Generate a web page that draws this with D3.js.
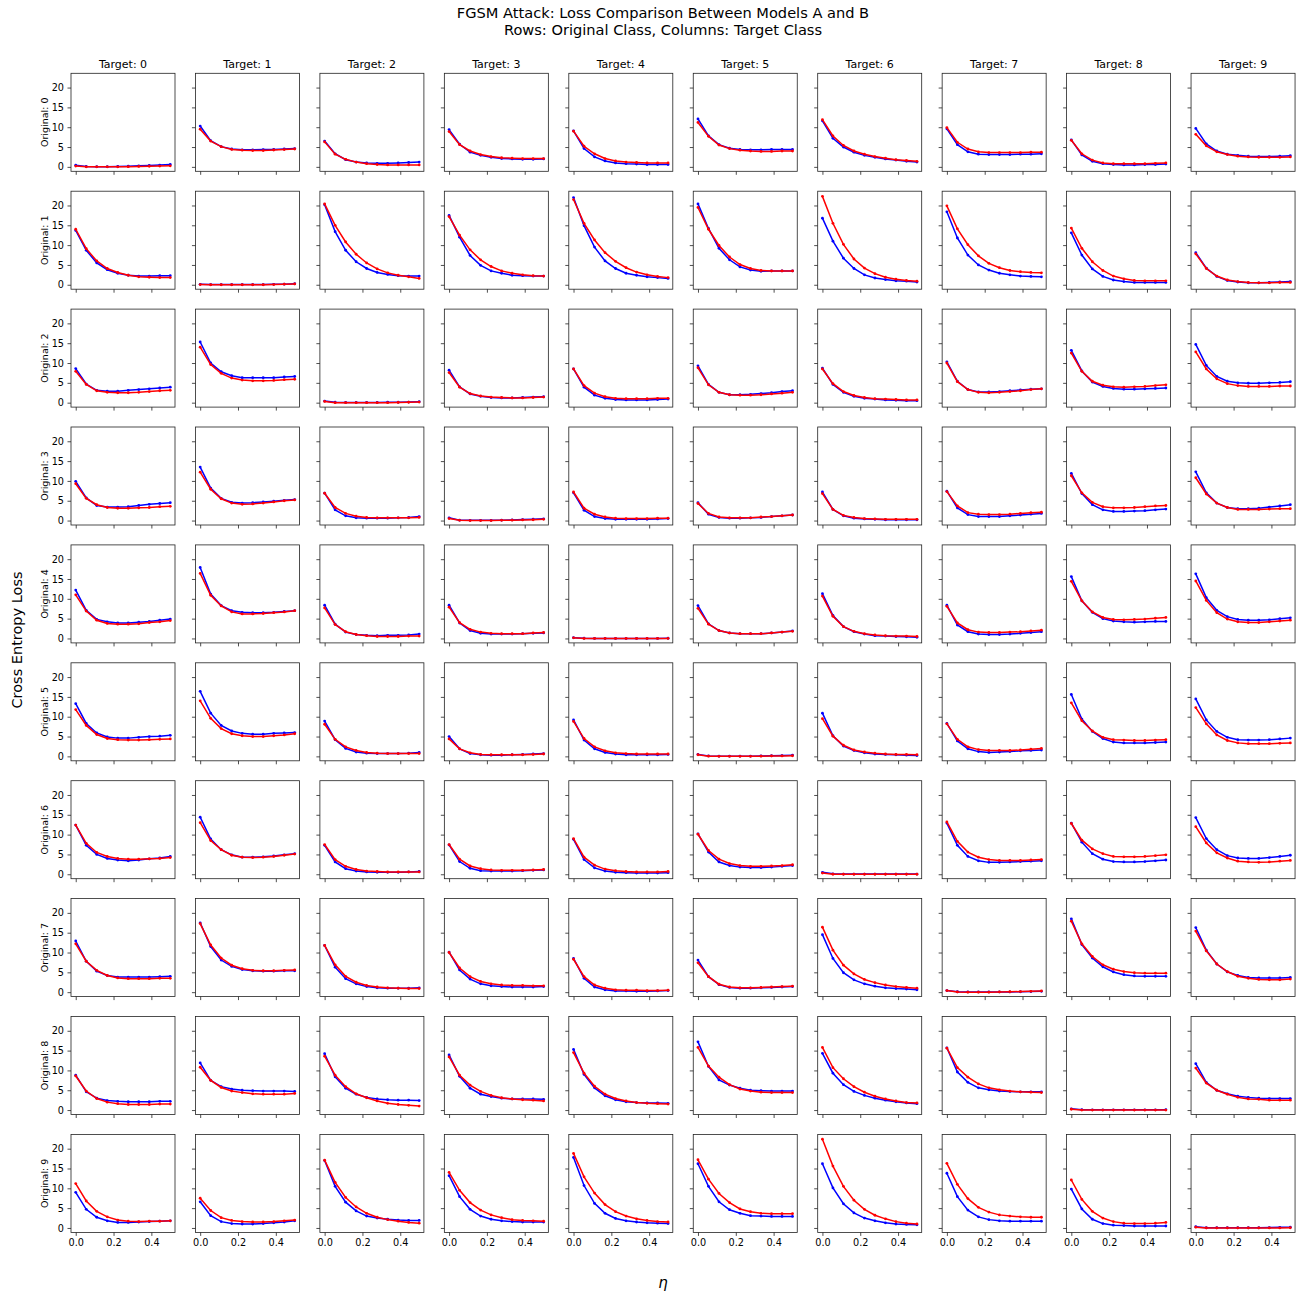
<!DOCTYPE html>
<html><head><meta charset="utf-8">
<script src="https://cdn.jsdelivr.net/npm/d3@7"></script>
<style>body{margin:0;background:#fff}svg{display:block}text{font-family:"DejaVu Sans",sans-serif;fill:#000}</style>
</head><body><svg id="c" width="1296" height="1291"></svg>
<script>
const eta = [0, 0.0556, 0.1111, 0.1667, 0.2222, 0.2778, 0.3333, 0.3889, 0.4444, 0.5];
const targets = ["Target: 0","Target: 1","Target: 2","Target: 3","Target: 4","Target: 5","Target: 6","Target: 7","Target: 8","Target: 9"];
const originals = ["Original: 0","Original: 1","Original: 2","Original: 3","Original: 4","Original: 5","Original: 6","Original: 7","Original: 8","Original: 9"];
const yTicks = [0, 5, 10, 15, 20];
const xTicks = [0.0, 0.2, 0.4];

// Model A (blue), one array per original class, one series per target class
const lossA0 = [
 [0.4,0.1,0.05,0.05,0.1,0.15,0.25,0.35,0.45,0.6],
 [10.3,6.6,5.1,4.5,4.3,4.3,4.35,4.4,4.5,4.6],
 [6.5,3.3,1.8,1.2,1.0,0.9,0.9,1.0,1.1,1.2],
 [9.4,5.7,3.7,2.9,2.4,2.1,2.0,1.9,1.9,2.0],
 [9.1,4.6,2.5,1.5,1.0,0.8,0.7,0.6,0.6,0.6],
 [12.1,7.8,5.6,4.7,4.4,4.3,4.3,4.4,4.4,4.4],
 [11.6,7.2,5.0,3.7,2.9,2.4,2.0,1.7,1.4,1.2],
 [9.6,5.6,3.8,3.2,3.1,3.1,3.1,3.2,3.2,3.3],
 [6.8,3.0,1.4,0.8,0.6,0.5,0.5,0.6,0.6,0.7],
 [9.7,5.8,4.0,3.2,2.9,2.7,2.6,2.6,2.7,2.8]];
const lossA1 = [
 [13.7,8.7,5.5,3.8,2.9,2.4,2.2,2.2,2.3,2.3],
 [0.1,0.05,0.05,0.05,0.05,0.05,0.05,0.1,0.15,0.25],
 [20.2,13.4,8.7,5.8,4.1,3.1,2.6,2.3,2.2,2.2],
 [17.5,12.0,7.4,4.9,3.5,2.9,2.4,2.3,2.2,2.2],
 [22.0,14.9,9.5,6.0,4.1,2.9,2.4,2.0,1.8,1.6],
 [20.4,14.2,9.2,6.3,4.5,3.7,3.4,3.5,3.5,3.5],
 [16.8,11.0,6.7,4.1,2.5,1.7,1.3,1.0,0.9,0.7],
 [18.4,11.8,7.5,5.0,3.7,2.9,2.5,2.2,2.1,2.0],
 [13.1,7.5,4.0,2.1,1.2,0.8,0.6,0.6,0.6,0.6],
 [8.1,4.2,2.1,1.1,0.7,0.5,0.5,0.6,0.7,0.8]];
const lossA2 = [
 [8.6,4.7,3.1,2.9,2.9,3.1,3.3,3.5,3.7,3.9],
 [15.3,10.0,7.8,6.8,6.3,6.3,6.3,6.3,6.5,6.6],
 [0.4,0.1,0.05,0.05,0.05,0.05,0.1,0.1,0.15,0.25],
 [8.2,4.0,2.2,1.6,1.3,1.2,1.2,1.3,1.4,1.5],
 [8.5,3.9,1.9,1.1,0.8,0.7,0.7,0.7,0.8,0.9],
 [9.3,4.6,2.6,2.0,2.0,2.1,2.3,2.5,2.8,3.0],
 [8.7,4.6,2.6,1.6,1.1,0.9,0.7,0.6,0.5,0.5],
 [10.3,5.4,3.3,2.7,2.7,2.8,3.0,3.2,3.4,3.5],
 [13.2,8.0,5.2,4.1,3.6,3.4,3.4,3.5,3.6,3.7],
 [14.7,9.4,6.6,5.4,5.0,4.9,4.9,5.0,5.1,5.3]];
const lossA3 = [
 [9.9,5.7,3.8,3.4,3.4,3.5,3.8,4.1,4.3,4.5],
 [13.5,8.2,5.6,4.6,4.4,4.5,4.7,4.9,5.1,5.3],
 [6.9,2.7,1.2,0.7,0.6,0.6,0.6,0.7,0.8,1.0],
 [0.7,0.1,0.05,0.05,0.05,0.1,0.15,0.25,0.35,0.45],
 [7.0,2.6,1.0,0.5,0.3,0.3,0.3,0.3,0.4,0.5],
 [4.5,1.6,0.8,0.6,0.6,0.7,0.8,1.0,1.2,1.4],
 [7.2,2.8,1.2,0.6,0.4,0.3,0.2,0.2,0.2,0.2],
 [7.4,3.2,1.5,1.0,1.0,1.0,1.2,1.4,1.6,1.8],
 [11.9,6.8,4.0,2.7,2.3,2.3,2.4,2.5,2.7,2.9],
 [12.3,7.0,4.4,3.3,3.0,3.0,3.1,3.4,3.7,4.0]];
const lossA4 = [
 [12.2,7.1,4.8,4.2,3.9,3.9,4.1,4.3,4.6,4.9],
 [17.9,11.2,8.3,7.0,6.6,6.5,6.5,6.6,6.8,7.0],
 [8.4,3.6,1.6,1.0,0.8,0.7,0.8,0.8,0.9,1.1],
 [8.4,3.9,2.0,1.3,1.1,1.1,1.1,1.2,1.3,1.4],
 [0.2,0.05,0.0,0.0,0.0,0.0,0.0,0.0,0.0,0.05],
 [8.3,3.7,2.0,1.4,1.2,1.2,1.2,1.4,1.6,1.9],
 [11.3,5.8,3.0,1.7,1.1,0.7,0.6,0.5,0.4,0.3],
 [8.4,3.4,1.7,1.1,1.0,1.0,1.1,1.3,1.5,1.7],
 [15.6,9.5,6.6,5.0,4.4,4.2,4.1,4.2,4.3,4.3],
 [16.3,10.3,7.1,5.5,4.8,4.6,4.6,4.7,5.0,5.2]];
const lossA5 = [
 [13.3,8.3,5.9,4.9,4.6,4.6,4.8,5.0,5.1,5.3],
 [16.4,10.9,7.8,6.4,5.8,5.6,5.6,5.8,5.9,6.0],
 [8.9,4.2,2.0,1.1,0.8,0.7,0.7,0.7,0.8,1.0],
 [5.0,1.9,0.7,0.4,0.3,0.3,0.4,0.5,0.6,0.7],
 [9.2,4.1,1.9,1.0,0.6,0.4,0.4,0.4,0.4,0.5],
 [0.5,0.1,0.05,0.05,0.05,0.05,0.1,0.15,0.2,0.3],
 [10.9,5.2,2.6,1.5,0.9,0.6,0.5,0.4,0.3,0.2],
 [8.3,3.9,1.9,1.2,1.0,1.1,1.2,1.4,1.5,1.6],
 [15.6,9.4,6.3,4.5,3.6,3.4,3.4,3.4,3.5,3.6],
 [14.5,9.2,6.3,4.8,4.2,4.1,4.1,4.2,4.4,4.6]];
const lossA6 = [
 [12.4,7.3,5.0,4.0,3.6,3.4,3.6,3.9,4.1,4.5],
 [14.4,8.9,6.2,4.9,4.3,4.3,4.4,4.6,4.9,5.2],
 [7.3,3.1,1.4,0.8,0.6,0.5,0.5,0.5,0.6,0.7],
 [7.4,3.2,1.5,0.9,0.8,0.8,0.8,0.9,1.0,1.1],
 [8.8,3.7,1.6,0.8,0.5,0.4,0.3,0.3,0.3,0.4],
 [10.2,5.6,3.1,2.2,1.8,1.7,1.7,1.8,2.0,2.2],
 [0.5,0.1,0.05,0.05,0.05,0.05,0.05,0.05,0.05,0.05],
 [12.9,7.3,4.5,3.4,3.0,3.0,3.1,3.2,3.3,3.4],
 [12.9,8.1,5.2,3.8,3.2,3.1,3.1,3.2,3.4,3.6],
 [14.3,9.0,6.2,4.7,4.1,4.0,4.0,4.2,4.5,4.8]];
const lossA7 = [
 [12.9,7.8,5.3,4.2,3.8,3.8,3.8,3.8,3.9,4.0],
 [17.5,11.5,8.1,6.5,5.7,5.4,5.3,5.3,5.4,5.4],
 [11.8,6.3,3.4,2.1,1.4,1.1,1.0,1.0,1.0,1.1],
 [10.1,5.6,3.3,2.1,1.6,1.4,1.3,1.3,1.3,1.4],
 [8.5,3.5,1.3,0.6,0.3,0.3,0.2,0.2,0.3,0.4],
 [8.1,3.9,1.9,1.2,1.0,1.0,1.1,1.2,1.3,1.4],
 [14.5,8.5,4.9,3.1,2.1,1.5,1.1,0.9,0.8,0.6],
 [0.4,0.1,0.05,0.05,0.05,0.05,0.05,0.1,0.15,0.2],
 [18.5,12.0,8.6,6.4,5.1,4.4,4.1,4.0,4.0,4.0],
 [16.3,10.6,7.1,5.1,4.2,3.7,3.6,3.6,3.6,3.7]];
const lossA8 = [
 [8.8,4.6,3.0,2.4,2.2,2.1,2.1,2.1,2.2,2.2],
 [11.9,7.5,5.9,5.3,5.0,4.9,4.8,4.8,4.8,4.7],
 [14.2,8.4,5.5,4.0,3.2,2.8,2.6,2.5,2.5,2.4],
 [13.9,8.5,5.5,4.0,3.4,3.0,2.8,2.8,2.8,2.7],
 [15.3,9.0,5.6,3.6,2.6,2.1,1.9,1.8,1.8,1.7],
 [17.2,11.0,7.6,6.3,5.5,5.0,4.9,4.8,4.8,4.8],
 [14.3,9.3,6.4,4.7,3.7,3.0,2.5,2.1,1.8,1.6],
 [15.7,9.6,7.0,5.6,5.1,4.8,4.7,4.6,4.6,4.6],
 [0.3,0.1,0.05,0.05,0.05,0.05,0.05,0.05,0.05,0.1],
 [11.7,7.0,5.0,4.1,3.5,3.2,3.0,2.9,2.9,2.9]];
const lossA9 = [
 [9.0,4.7,2.7,1.8,1.4,1.4,1.5,1.6,1.7,1.8],
 [6.6,3.1,1.6,1.1,1.0,1.0,1.1,1.3,1.5,1.8],
 [17.0,10.5,6.5,4.3,3.0,2.5,2.2,2.0,1.9,1.9],
 [13.2,7.9,4.7,3.0,2.2,1.8,1.6,1.5,1.5,1.5],
 [17.8,10.7,6.2,3.7,2.4,1.8,1.5,1.3,1.2,1.1],
 [16.2,10.5,6.6,4.6,3.7,3.1,3.0,2.9,2.9,2.9],
 [16.2,10.1,6.1,3.8,2.5,1.8,1.3,1.0,0.9,0.8],
 [13.8,7.9,4.5,2.8,2.1,1.8,1.7,1.7,1.7,1.7],
 [9.8,4.8,2.2,1.1,0.7,0.6,0.5,0.5,0.5,0.5],
 [0.3,0.05,0.05,0.05,0.05,0.05,0.05,0.1,0.15,0.2]];

// Model B (red)
const lossB0 = [
 [0.2,0.0,0.0,0.0,0.0,0.05,0.1,0.15,0.2,0.25],
 [9.5,6.5,5.1,4.4,4.2,4.1,4.1,4.25,4.35,4.5],
 [6.3,3.2,1.9,1.2,0.8,0.6,0.5,0.5,0.5,0.5],
 [8.9,5.6,4.0,3.1,2.6,2.3,2.2,2.1,2.1,2.1],
 [9.0,5.2,3.3,2.1,1.5,1.2,1.1,1.0,1.0,1.0],
 [11.2,7.7,5.5,4.6,4.2,4.0,3.9,3.9,4.0,4.0],
 [11.9,7.8,5.4,4.0,3.2,2.6,2.2,1.8,1.6,1.4],
 [9.9,6.2,4.5,3.8,3.6,3.6,3.6,3.6,3.7,3.7],
 [6.7,3.3,1.7,1.0,0.8,0.8,0.8,0.8,0.9,1.0],
 [8.2,5.3,3.8,3.1,2.7,2.5,2.4,2.4,2.4,2.5]];
const lossB1 = [
 [14.0,9.1,6.0,4.1,3.1,2.4,2.0,1.9,1.8,1.8],
 [0.05,0.0,0.0,0.0,0.0,0.0,0.0,0.05,0.15,0.2],
 [20.4,15.0,10.8,7.7,5.5,4.0,3.0,2.4,2.0,1.6],
 [17.2,12.5,8.8,6.3,4.6,3.5,2.9,2.5,2.3,2.2],
 [21.5,15.5,11.3,8.1,5.9,4.3,3.2,2.5,2.1,1.8],
 [19.5,14.0,9.9,7.0,5.1,4.1,3.6,3.5,3.5,3.5],
 [22.3,15.5,10.2,6.5,4.2,2.8,1.9,1.4,1.1,0.9],
 [19.9,14.1,10.1,7.3,5.4,4.3,3.6,3.3,3.1,3.0],
 [14.3,9.2,5.8,3.6,2.2,1.5,1.1,1.0,1.0,1.0],
 [7.8,4.1,2.2,1.2,0.8,0.6,0.5,0.5,0.6,0.6]];
const lossB2 = [
 [7.9,4.6,3.0,2.6,2.5,2.5,2.6,2.8,3.0,3.1],
 [14.0,9.6,7.4,6.2,5.7,5.5,5.5,5.6,5.8,5.9],
 [0.3,0.0,0.0,0.0,0.0,0.0,0.0,0.05,0.1,0.15],
 [7.6,3.9,2.3,1.7,1.4,1.3,1.2,1.2,1.3,1.4],
 [8.5,4.3,2.4,1.5,1.1,1.0,1.0,1.0,1.1,1.1],
 [8.8,4.5,2.6,2.0,1.9,1.9,2.0,2.2,2.4,2.6],
 [8.5,4.8,2.8,1.8,1.3,1.0,0.9,0.8,0.7,0.7],
 [10.0,5.3,3.3,2.6,2.5,2.6,2.8,3.0,3.3,3.5],
 [12.5,7.9,5.4,4.4,4.0,3.9,4.0,4.1,4.3,4.5],
 [12.8,8.5,6.0,4.8,4.3,4.1,4.1,4.1,4.2,4.2]];
const lossB3 = [
 [9.3,5.6,4.0,3.3,3.1,3.1,3.2,3.3,3.5,3.6],
 [12.2,7.9,5.5,4.4,4.1,4.2,4.4,4.7,5.0,5.2],
 [6.9,3.3,1.8,1.1,0.8,0.7,0.7,0.7,0.7,0.8],
 [0.5,0.05,0.0,0.0,0.0,0.05,0.1,0.15,0.2,0.3],
 [7.2,3.1,1.6,0.9,0.6,0.5,0.5,0.5,0.6,0.6],
 [4.3,1.8,0.9,0.7,0.7,0.7,0.9,1.0,1.2,1.4],
 [6.8,2.8,1.3,0.8,0.5,0.4,0.3,0.3,0.3,0.3],
 [7.3,3.7,2.0,1.6,1.5,1.5,1.6,1.8,2.0,2.1],
 [11.3,7.0,4.6,3.5,3.2,3.2,3.3,3.5,3.7,3.8],
 [10.8,6.7,4.4,3.3,2.8,2.8,2.8,2.9,3.0,3.0]];
const lossB4 = [
 [11.0,6.9,4.6,3.8,3.6,3.6,3.7,4.0,4.2,4.5],
 [16.4,10.9,8.2,6.7,6.2,6.2,6.3,6.5,6.7,7.0],
 [7.7,3.5,1.7,1.0,0.7,0.5,0.5,0.5,0.6,0.6],
 [7.9,4.0,2.3,1.6,1.3,1.2,1.2,1.2,1.4,1.5],
 [0.15,0.0,0.0,0.0,0.0,0.0,0.0,0.0,0.0,0.0],
 [7.6,3.6,2.0,1.4,1.2,1.2,1.2,1.4,1.6,1.8],
 [10.7,5.6,3.0,1.8,1.2,0.9,0.7,0.6,0.6,0.5],
 [8.1,3.9,2.2,1.6,1.5,1.5,1.6,1.7,1.9,2.1],
 [14.4,9.5,6.7,5.3,4.8,4.7,4.8,4.9,5.1,5.3],
 [14.5,9.6,6.5,4.9,4.2,4.0,4.0,4.2,4.4,4.6]];
const lossB5 = [
 [11.8,7.8,5.5,4.5,4.2,4.1,4.1,4.2,4.3,4.4],
 [14.0,9.6,7.0,5.7,5.2,5.0,5.0,5.2,5.4,5.7],
 [8.1,4.3,2.4,1.5,1.0,0.8,0.7,0.7,0.7,0.7],
 [4.4,1.9,0.9,0.5,0.4,0.4,0.4,0.4,0.5,0.6],
 [8.8,4.5,2.4,1.4,0.9,0.7,0.6,0.6,0.6,0.6],
 [0.4,0.05,0.0,0.0,0.0,0.0,0.05,0.1,0.1,0.15],
 [9.5,5.1,2.8,1.6,1.1,0.8,0.6,0.5,0.5,0.4],
 [8.2,4.3,2.4,1.7,1.5,1.5,1.5,1.6,1.8,2.0],
 [13.5,9.0,6.4,4.8,4.2,4.1,4.0,4.0,4.1,4.2],
 [12.3,8.2,5.4,4.0,3.4,3.2,3.2,3.2,3.3,3.4]];
const lossB6 = [
 [12.4,7.8,5.5,4.5,4.0,3.8,3.8,3.9,4.0,4.2],
 [13.0,8.5,6.2,4.8,4.3,4.2,4.3,4.5,4.8,5.1],
 [7.5,3.7,2.0,1.2,0.8,0.7,0.6,0.6,0.6,0.6],
 [7.5,3.8,2.1,1.4,1.1,1.0,1.0,1.0,1.1,1.2],
 [9.0,4.3,2.3,1.3,0.9,0.7,0.6,0.6,0.6,0.7],
 [10.1,6.0,3.8,2.7,2.2,2.0,2.0,2.1,2.2,2.4],
 [0.3,0.0,0.0,0.0,0.0,0.0,0.0,0.0,0.0,0.0],
 [13.2,8.3,5.6,4.3,3.7,3.5,3.5,3.5,3.6,3.7],
 [12.8,8.6,6.4,5.2,4.5,4.4,4.4,4.5,4.7,4.9],
 [12.0,7.9,5.4,4.1,3.3,3.1,3.0,3.1,3.3,3.5]];
const lossB7 = [
 [12.2,7.8,5.5,4.2,3.6,3.4,3.4,3.4,3.5,3.5],
 [17.3,11.9,8.6,6.8,5.9,5.5,5.4,5.4,5.5,5.6],
 [11.8,6.9,4.0,2.5,1.7,1.3,1.1,1.0,0.9,0.9],
 [10.0,6.1,3.9,2.7,2.1,1.8,1.7,1.7,1.6,1.6],
 [8.3,3.9,1.8,1.0,0.6,0.5,0.5,0.4,0.4,0.5],
 [7.4,3.9,2.0,1.3,1.1,1.1,1.2,1.3,1.4,1.5],
 [16.4,10.6,6.8,4.6,3.2,2.4,1.8,1.4,1.2,1.0],
 [0.4,0.05,0.0,0.0,0.0,0.05,0.1,0.15,0.2,0.3],
 [17.9,12.2,9.0,6.9,5.8,5.2,4.9,4.8,4.8,4.8],
 [15.4,10.4,7.1,5.2,4.0,3.5,3.2,3.1,3.1,3.3]];
const lossB8 = [
 [8.6,4.8,2.9,2.0,1.6,1.4,1.4,1.4,1.5,1.5],
 [10.8,7.5,5.7,4.8,4.4,4.1,4.0,4.0,4.0,4.2],
 [13.6,8.8,5.9,4.1,3.1,2.3,1.7,1.4,1.2,1.0],
 [13.4,8.8,6.3,4.7,3.7,3.1,2.8,2.6,2.5,2.3],
 [14.5,9.3,6.0,4.0,2.9,2.3,1.9,1.7,1.6,1.5],
 [15.8,11.1,8.3,6.4,5.3,4.8,4.5,4.4,4.4,4.4],
 [15.8,10.7,7.9,5.9,4.5,3.5,2.8,2.3,1.9,1.8],
 [15.6,10.7,8.3,6.6,5.6,5.1,4.8,4.6,4.5,4.4],
 [0.2,0.0,0.0,0.0,0.0,0.0,0.0,0.0,0.0,0.0],
 [10.6,6.8,5.0,4.0,3.2,2.8,2.7,2.5,2.5,2.5]];
const lossB9 = [
 [11.2,6.8,4.2,2.8,2.0,1.7,1.6,1.7,1.7,1.8],
 [7.5,4.4,2.6,1.9,1.6,1.5,1.5,1.6,1.8,2.0],
 [17.1,11.5,7.7,5.3,3.7,2.7,2.1,1.7,1.4,1.2],
 [14.0,9.5,6.4,4.5,3.3,2.6,2.1,1.9,1.8,1.7],
 [18.8,12.9,8.8,5.9,4.1,3.0,2.3,1.9,1.6,1.5],
 [17.2,12.3,8.7,6.4,4.8,4.1,3.7,3.6,3.6,3.6],
 [22.4,15.6,10.5,7.0,4.7,3.2,2.3,1.6,1.2,1.0],
 [16.3,11.0,7.4,5.2,4.0,3.3,3.0,2.8,2.7,2.7],
 [12.1,7.2,4.2,2.5,1.6,1.2,1.1,1.1,1.2,1.4],
 [0.2,0.0,0.0,0.0,0.0,0.0,0.0,0.0,0.0,0.05]];

const lossA = [lossA0,lossA1,lossA2,lossA3,lossA4,lossA5,lossA6,lossA7,lossA8,lossA9];
const lossB = [lossB0,lossB1,lossB2,lossB3,lossB4,lossB5,lossB6,lossB7,lossB8,lossB9];

const svg = d3.select("#c");
const left0 = 71, pitchX = 124.45, pw = 104;
const top0 = 73.3, pitchY = 117.9, ph = 98;

const x = d3.scaleLinear().domain([-0.025, 0.525]).range([0, pw]);
const y = d3.scaleLinear().domain([-1.12, 23.6]).range([ph, 0]);
const line = d3.line().x((d,i) => x(eta[i])).y(d => y(d));

svg.append("text").attr("x", 663).attr("y", 18).attr("text-anchor","middle").attr("font-size","14.6px")
  .text("FGSM Attack: Loss Comparison Between Models A and B");
svg.append("text").attr("x", 663).attr("y", 34.5).attr("text-anchor","middle").attr("font-size","14.6px")
  .text("Rows: Original Class, Columns: Target Class");

svg.append("text").attr("transform","translate(22,640) rotate(-90)").attr("text-anchor","middle")
  .attr("font-size","14.5px").text("Cross Entropy Loss");
svg.append("text").attr("x", 663).attr("y", 1288).attr("text-anchor","middle")
  .attr("font-size","15px").attr("font-style","italic").text("η");

for (let r = 0; r < 10; r++) {
  for (let c = 0; c < 10; c++) {
    const g = svg.append("g").attr("transform", `translate(${left0 + c*pitchX},${top0 + r*pitchY})`);
    const yAx = d3.axisLeft(y).tickValues(yTicks).tickSize(3.5).tickPadding(3.5);
    if (c > 0) yAx.tickFormat("");
    const ya = g.append("g").call(yAx);
    const xAx = d3.axisBottom(x).tickValues(xTicks).tickSize(3.5).tickPadding(3.5).tickFormat(d3.format(".1f"));
    if (r < 9) xAx.tickFormat("");
    const xa = g.append("g").attr("transform", `translate(0,${ph})`).call(xAx);
    [ya, xa].forEach(a => {
      a.select(".domain").remove();
      a.selectAll("line").attr("stroke","#222").attr("stroke-width",0.8);
      a.selectAll("text").attr("font-size","9.7px").attr("fill","#222").attr("font-family","DejaVu Sans");
    });
    g.append("path").datum(lossA[r][c]).attr("d", line).attr("fill","none").attr("stroke","#0000ff").attr("stroke-width",1.5);
    g.selectAll("circle.a").data(lossA[r][c]).join("circle").attr("class","a")
      .attr("cx",(d,i)=>x(eta[i])).attr("cy",d=>y(d)).attr("r",1.4).attr("fill","#0000ff");
    g.append("path").datum(lossB[r][c]).attr("d", line).attr("fill","none").attr("stroke","#ff0000").attr("stroke-width",1.5);
    g.selectAll("circle.b").data(lossB[r][c]).join("circle").attr("class","b")
      .attr("cx",(d,i)=>x(eta[i])).attr("cy",d=>y(d)).attr("r",1.4).attr("fill","#ff0000");
    g.append("rect").attr("width", pw).attr("height", ph).attr("fill","none").attr("stroke","#222").attr("stroke-width",0.8);
    if (r === 0) g.append("text").attr("x", pw/2).attr("y", -5.5).attr("text-anchor","middle").attr("font-size","11px").text(targets[c]);
    if (c === 0) g.append("text").attr("transform", `translate(-23,${ph/2}) rotate(-90)`).attr("text-anchor","middle")
      .attr("font-size","9.5px").text(originals[r]);
  }
}
</script></body></html>
